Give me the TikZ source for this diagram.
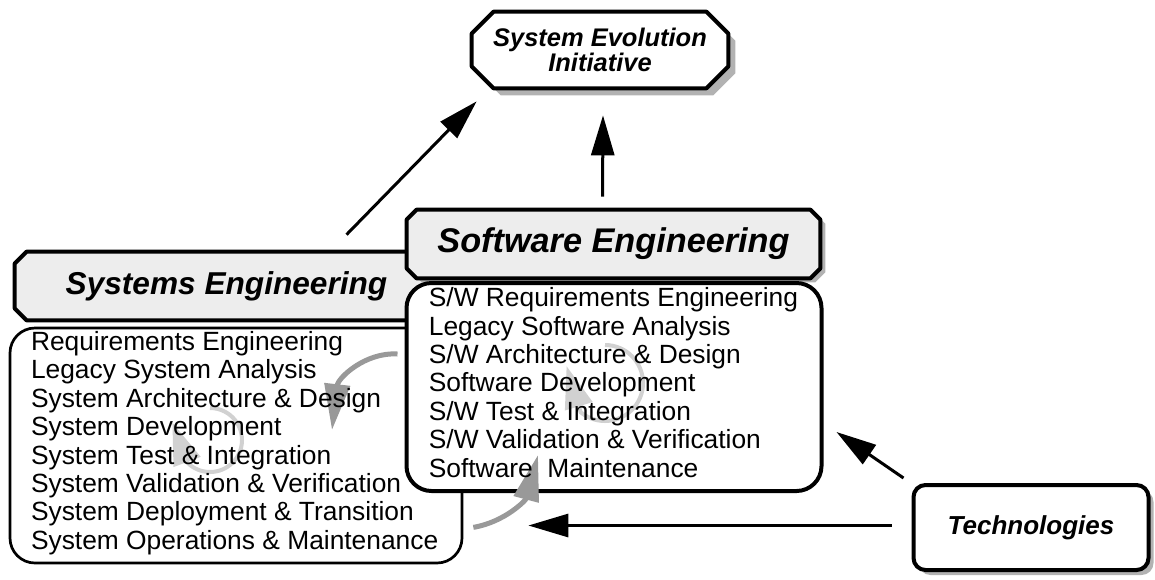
\documentclass[tikz,border=0pt]{standalone}
\usepackage{fontspec}
\setmainfont{Liberation Sans}
\usetikzlibrary{arrows.meta, shadows}

\newlength{\unitpx}
\setlength{\unitpx}{0.02cm}

\pgfdeclarelayer{boxes}
\pgfsetlayers{boxes,main}

% octagon round a node: node, chamfer, dx, dy
\newcommand{\chamferpath}[4]{([shift={(#2+#3, #4)}]#1.north west) -- ([shift={(-#2+#3, #4)}]#1.north east)
	-- ([shift={(#3, -#2+#4)}]#1.north east) -- ([shift={(#3, #2+#4)}]#1.south east)
	-- ([shift={(-#2+#3, #4)}]#1.south east) -- ([shift={(#2+#3, #4)}]#1.south west)
	-- ([shift={(#3, #2+#4)}]#1.south west) -- ([shift={(#3, -#2+#4)}]#1.north west) -- cycle}

\tikzset{
	titletext/.style={rectangle, inner sep=0pt, align=center, font=\fontsize{14.5}{14.2}\selectfont\bfseries\itshape},
	headtext/.style={rectangle, inner sep=0pt},
	octline/.style={draw, line width=4\unitpx, line join=round},
	listbox/.style={rectangle, draw, rounded corners=25\unitpx, fill=white, inner sep=0pt},
	listtext/.style={align=left, inner sep=0pt, font=\fontsize{15}{16.2}\selectfont},
	greyshadow/.style={drop shadow={shadow xshift=5\unitpx, shadow yshift=-5\unitpx, fill=black!30, opacity=1}},
	bigarrow/.style={line width=3\unitpx, -{Triangle[length=0.8cm, width=0.46cm]}},
	loopback/.style={line width=5\unitpx, draw=black!40, -{Triangle[length=0.92cm, width=0.5cm]}},
	spinarrow/.style={line width=4\unitpx, draw=black!18, -{Triangle[length=0.84cm, width=0.56cm]}},
}

\begin{document}
\begin{tikzpicture}[x=1\unitpx, y=1\unitpx]
	\useasboundingbox (0, 0) rectangle (1155, -579);
	% Headers:
	\node[titletext, minimum width=256\unitpx, minimum height=76\unitpx] (sei) at (600, -50) {System Evolution\\Initiative};
	\node[headtext, minimum width=423\unitpx, minimum height=68\unitpx, font=\fontsize{18}{20}\selectfont\bfseries\itshape]
		(syshead) at (226.5, -286){Systems Engineering};
	\node[headtext, minimum width=413\unitpx, minimum height=68\unitpx, font=\fontsize{19.5}{22}\selectfont\bfseries\itshape]
		(swhead) at (613.5, -244){Software Engineering};
	\begin{pgfonlayer}{boxes}
		\path[fill=black!30] \chamferpath{sei}{22}{7}{-7};
		\path[octline, fill=white] \chamferpath{sei}{22}{0}{0};
		\path[octline, fill=black!7] \chamferpath{syshead}{12}{0}{0};
		\path[fill=black!30] \chamferpath{swhead}{10}{5}{-4};
		\path[octline, fill=black!7] \chamferpath{swhead}{10}{0}{0};
	\end{pgfonlayer}
	% Boxes:
	\node[listbox, line width=2.7\unitpx, minimum width=452\unitpx, minimum height=235\unitpx] (sysbody) at (236, -445.5){};
	\node[listbox, line width=4\unitpx, minimum width=415\unitpx, minimum height=208\unitpx] (swbody) at (614, -387){};
	\node[listbox, greyshadow, line width=4\unitpx, rounded corners=12\unitpx, minimum width=235\unitpx, minimum height=85\unitpx,
		font=\fontsize{14.8}{16}\selectfont\bfseries\itshape] (tech) at (1031, -527.5){Technologies};
	% Grey loops:
	\draw[spinarrow] (210, -408) arc[start angle=90, end angle=-135, radius=32] -- ++(-15, 40);
	\draw[spinarrow] (605, -345) arc[start angle=90, end angle=-130, radius=38] -- ++(-14, 46);
	\draw[loopback] ([shift={(-7, 33)}]swbody.west) .. controls (365, -352) and (338, -378) .. (332, -430);
	\draw[loopback] ([shift={(10, 37)}]sysbody.south east) .. controls (505, -522) and (526, -500) .. (538, -455);
	% Lists:
	\node[listtext, anchor=west] (systext) at ([shift={(22, 2.5)}]sysbody.west)
		{Requirements Engineering\\Legacy System Analysis\\System Architecture \& Design\\System Development\\
		System Test \& Integration\\System Validation \& Verification\\System Deployment \& Transition\\
		System Operations \& Maintenance};
	\node[listtext, anchor=west] (swtext) at ([shift={(24, 4.5)}]swbody.west)
		{S/W Requirements Engineering\\Legacy Software Analysis\\S/W Architecture \& Design\\Software Development\\
		S/W Test \& Integration\\S/W Validation \& Verification\\Software~ Maintenance};
	% Arrows:
	\draw[bigarrow] ([shift={(120, 17)}]syshead.north) -- ([shift={(5, -13)}]sei.south west);
	\draw[bigarrow] ([shift={(-11, 13)}]swhead.north) -- ([shift={(3, -27)}]sei.south);
	\draw[bigarrow] ([shift={(-8, 5)}]tech.north west) -- ([shift={(13, -45)}]swbody.east);
	\draw[bigarrow] ([shift={(-20, 2)}]tech.west) -- ([shift={(65, 2)}]tech.west -| sysbody.east);
\end{tikzpicture}
\end{document}
